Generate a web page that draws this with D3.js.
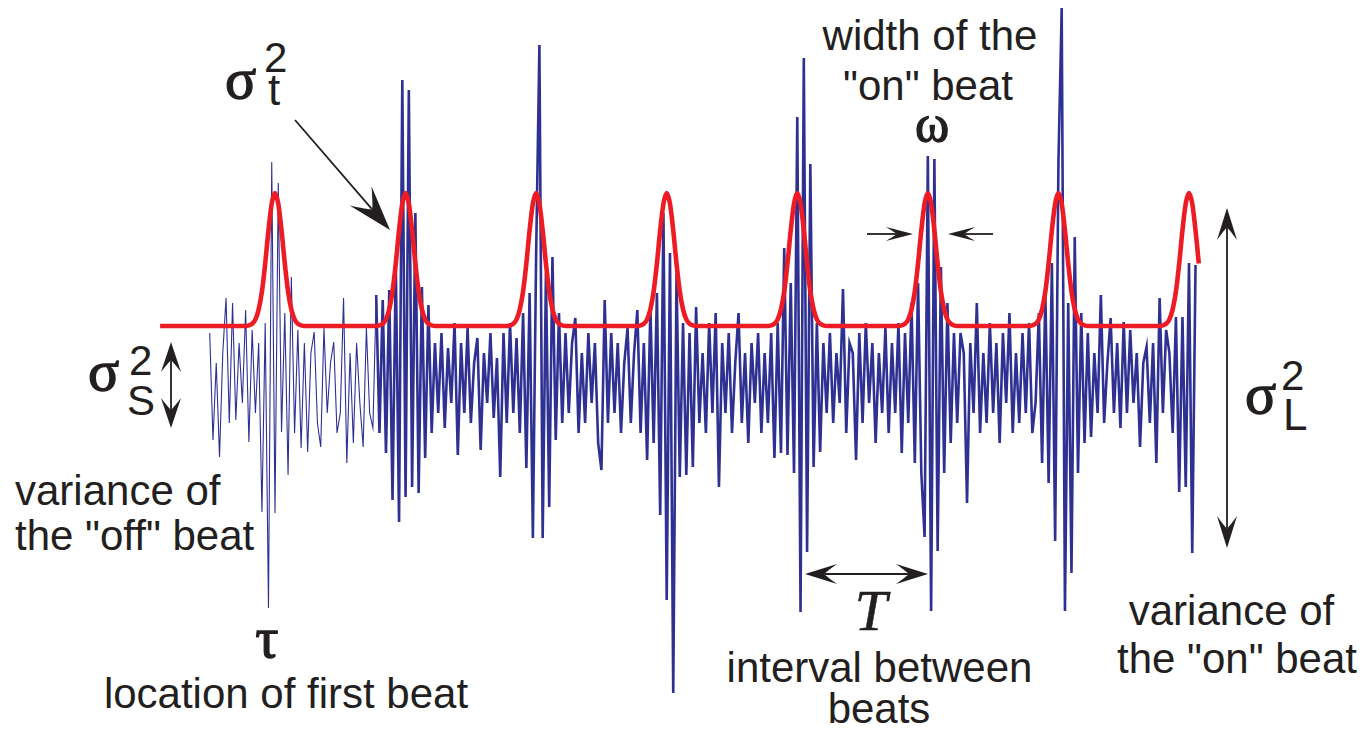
<!DOCTYPE html>
<html><head><meta charset="utf-8">
<script src="https://cdn.jsdelivr.net/npm/d3@7"></script>
<style>body{margin:0;background:#fff}svg{display:block}</style>
</head><body><svg id="c" width="1365" height="735"></svg>
<script>
// ---------- data ----------
const sampleRate = 80;        // samples per second
const signalStart = 0.19;     // time of first sample (s)
const thickFrom = 51;         // sample index where the bold trace begins
const signal = [
  5, -5.7, 2, -7.4, 3, 8.5, -4, 8, -3.7, 4,
  -2, 7.3, -5.9, 5.3, -3, 4, -12.9, 6, -22.5, 22.1,
  -13, 20, -4.9, 7, -9.2, 10.6, -5, 5.3, -6.5, 4,
  -6.9, 3, 5.1, -4, -6.4, 5.5, -3, 2, 4.1, -5,
  -3, 8.5, -8, 3, -6, 4, -2, -6.4, 5.5, -3,
  -4.5, 8.8, -5, 8.3, -7, 9.3, -11.7, 12, -13.9, 30.3,
  -11.4, 29.3, -10.4, 17, -11, 9.6, -7.5, 7.8, -5, 4,
  -3, 5, -4.5, 3.5, -2, 6, -7.2, 4, -3, 5.5,
  -4, 2, 4.5, -6.7, 3, -2, 5, -3.5, 2.5, -9.4,
  5, -4, 6, -3, 4.5, -5, 7, -8.5, 9, -15.5,
  13, 33.8, -15.5, 11, -12.4, 12.6, -5.7, 7, -4, 5,
  -3, 4, 6.5, -5, 3, -4, 5, -2, 4, -6,
  -8.7, 8.3, -4, 5, -3, 4, -5, 2, 5.5, -4,
  3, 7.3, -5, 4, -7.7, 7.6, -6, 9, -13.2, 17,
  -21.7, 13, -31, 11, -9.4, 6, -9.2, 5, -8.4, 7.6,
  -4, 3, -5, 6, -3, 7, -10.4, 4, -3, 5,
  -5, 2, 7, -4, 3, -6, 4, -2, 5, -5,
  3, -4, 5, -7.5, 6, -7, 13.5, -7.2, 10, -9,
  26.6, -22.9, 32.5, -16.9, 21.9, -8.4, 6, -6.9, 4, -3,
  5, -4, 3, -2, 9.4, -5, 4, 3, -7.7, 5,
  -4, 6, -2, 4, -6, 3, -3, 5.5, -5, 4,
  -3, 6, -7, 5, -4, 8, -8, 10, -9, -15.4,
  22.7, -22.8, 22.4, -16.8, 11.6, -9, 8, -6, 5, -4,
  5, 3, -12, 4, -3, 8, -5, 3, -4, 6,
  -3, 4, -6, 5, -2, 7, -5, 3, -4, 5,
  -3, 6, -5, -2, 7, -8, 9, -10, 12, -15.8,
  22, 37.5, -22.8, 8, -19, 14.6, -9, 7, -6, 5,
  -5.4, 3, -3, 8.8, -4, 2, 6.5, -3, 4, -4.5,
  6.1, -3, 5.3, -2, 3, -6.4, 2, 3.6, -4, 4,
  -8, 8.5, -3, 5.3, 3, -5, 6.6, -10.9, 6.6, -10.4,
  12, -17, 11.8
];
const beatTimes = [0.44, 0.94, 1.44, 1.94, 2.44, 2.94, 3.44, 3.94]; // s
// shape of one "on" beat, one value per sample (1/80 s), centred on the beat
const pulseProfile = [0, 0.005, 0.017, 0.05, 0.125, 0.26, 0.47, 0.72, 0.92, 1,
                      0.92, 0.72, 0.47, 0.26, 0.125, 0.05, 0.017, 0.005, 0];
const modelRest = 5.7, modelPeak = 19;
const modelStart = 0, modelEnd = 3.9775;

// ---------- scales ----------
const svg = d3.select('#c');
const x = d3.scaleLinear().domain([0, 4]).range([160.1, 1204.66]);
const y = d3.scaleLinear().domain([-35, 38]).range([733, 3]);

const INK = '#231f20', BLUE = '#2e3192', RED = '#ed1c24';
const SANS = '"Liberation Sans", Arial, Helvetica, sans-serif';
const SERIF = '"Liberation Serif", "Times New Roman", serif';

// ---------- blue signal ----------
const pts = signal.map((v, i) => ({t: signalStart + i / sampleRate, v}));
const line = d3.line().x(d => x(d.t)).y(d => y(d.v));
svg.append('path').datum(pts.slice(0, thickFrom + 1))
  .attr('d', line).attr('fill', 'none').attr('stroke', BLUE)
  .attr('stroke-width', 1.1).attr('stroke-linejoin', 'miter').attr('stroke-miterlimit', 10);
svg.append('path').datum(pts.slice(thickFrom))
  .attr('d', line).attr('fill', 'none').attr('stroke', BLUE)
  .attr('stroke-width', 2.6).attr('stroke-linejoin', 'miter').attr('stroke-miterlimit', 10);

// ---------- red model ----------
const half = (pulseProfile.length - 1) / 2;
const model = [{t: modelStart, v: modelRest}];
beatTimes.forEach(b => {
  pulseProfile.forEach((p, k) => {
    const t = b + (k - half) / sampleRate;
    if (t <= modelEnd + 1e-9) model.push({t, v: modelRest + (modelPeak - modelRest) * p});
  });
});
if (model[model.length - 1].t < modelEnd - 1e-9) model.push({t: modelEnd, v: modelRest});
svg.append('path').datum(model)
  .attr('d', d3.line().x(d => x(d.t)).y(d => y(d.v)).curve(d3.curveMonotoneX))
  .attr('fill', 'none').attr('stroke', RED).attr('stroke-width', 4.6)
  .attr('stroke-linecap', 'butt').attr('stroke-linejoin', 'round');

// ---------- annotations ----------
const ann = svg.append('g');
function head(tx, ty, fx, fy, len, hw) {
  const dx = tx - fx, dy = ty - fy, L = Math.hypot(dx, dy);
  const ux = dx / L, uy = dy / L, px = -uy, py = ux;
  const bx = tx - ux * len, by = ty - uy * len;
  const nx = tx - ux * len * 0.62, ny = ty - uy * len * 0.62;
  ann.append('path')
    .attr('d', `M${tx},${ty}L${bx + px * hw},${by + py * hw}Q${nx + ux*len*0.05},${ny + uy*len*0.05} ${nx},${ny}Q${nx + ux*len*0.05},${ny + uy*len*0.05} ${bx - px * hw},${by - py * hw}Z`)
    .attr('fill', INK);
  return [nx, ny];
}
function arrow(x1, y1, x2, y2, len, hw, both) {
  const e = head(x2, y2, x1, y1, len, hw);
  const s = both ? head(x1, y1, x2, y2, len, hw) : [x1, y1];
  ann.append('line').attr('x1', s[0]).attr('y1', s[1]).attr('x2', e[0]).attr('y2', e[1])
    .attr('stroke', INK).attr('stroke-width', 1.8);
}
function txt(s, tx, ty, size, opt = {}) {
  const t = ann.append('text').attr('x', tx).attr('y', ty).text(s)
    .attr('font-family', opt.serif ? SERIF : SANS).attr('font-size', size)
    .attr('font-style', opt.italic ? 'italic' : null)
    .attr('text-anchor', opt.anchor || 'start').attr('fill', INK);
  if (opt.bold) t.attr('stroke', INK).attr('stroke-width', opt.bold).attr('stroke-linejoin', 'round');
  return t;
}

// sigma_t^2
txt('σ', 225, 98, 58, {serif: true, bold: 1.3});
txt('2', 264, 72, 42);
txt('t', 268, 105, 44);
arrow(295, 120, 390, 230, 45, 14.5, false);

// sigma_S^2
txt('σ', 88, 390, 58, {serif: true, bold: 1.3});
txt('2', 129, 375, 42);
txt('S', 127, 415, 42);
arrow(171, 342, 171, 428, 30, 10, true);
txt('variance of', 15, 505, 42);
txt('the "off" beat', 15, 550, 42);

// tau
txt('τ', x(beatTimes[0]) - 8, 657, 58, {serif: true, bold: 1.3, anchor: 'middle'});
txt('location of first beat', 286, 708, 42, {anchor: 'middle'});

// omega
txt('width of the', 930, 50, 42, {anchor: 'middle'});
txt('"on" beat', 928, 100, 42, {anchor: 'middle'});
txt('ω', 932, 141, 52, {serif: true, bold: 1.3, anchor: 'middle'});
arrow(867, 234, 913, 234, 27, 7, false);
arrow(993, 234, 948, 234, 27, 7, false);

// T
arrow(805, 574, 928, 574, 32, 10, true);
txt('T', 871, 630, 58, {serif: true, italic: true, bold: 0.6, anchor: 'middle'});
txt('interval between', 879.5, 682, 42, {anchor: 'middle'});
txt('beats', 879, 723, 42, {anchor: 'middle'});

// sigma_L^2
arrow(1227, 208, 1227, 548, 32, 10, true);
txt('σ', 1245, 413, 58, {serif: true, bold: 1.3});
txt('2', 1281, 390, 42);
txt('L', 1283, 430, 44);
txt('variance of', 1231.5, 625, 42, {anchor: 'middle'});
txt('the "on" beat', 1237, 673, 42, {anchor: 'middle'});
</script>
</body></html>
